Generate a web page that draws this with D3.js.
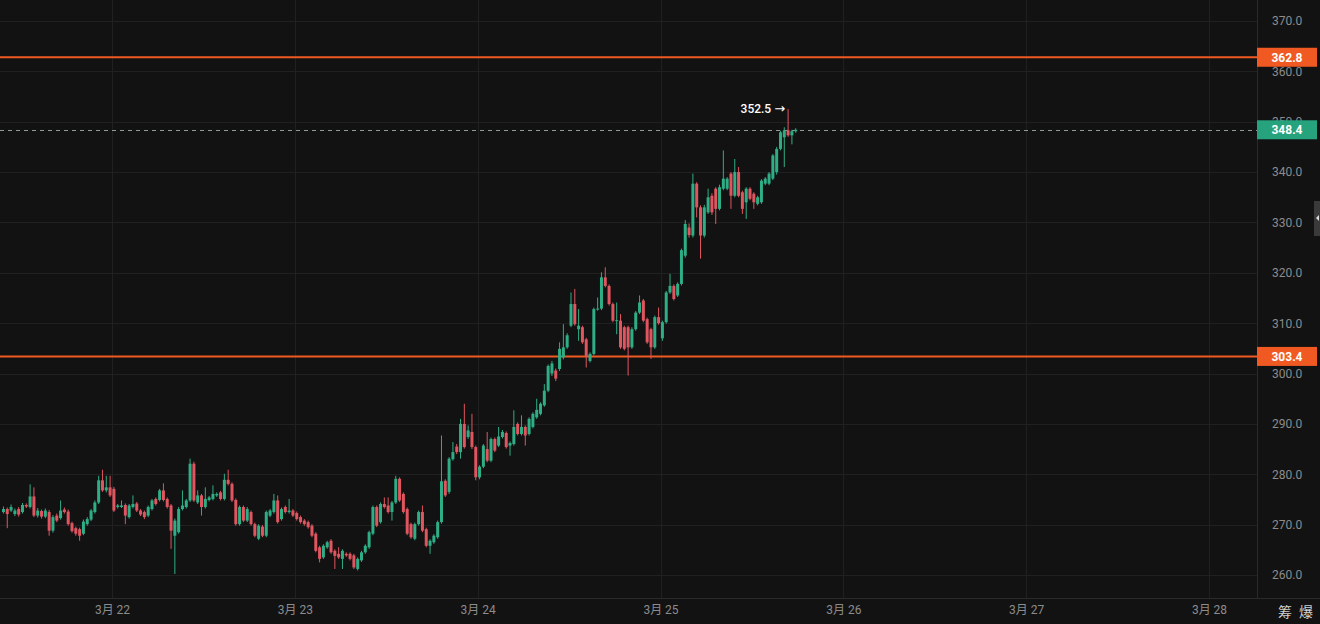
<!DOCTYPE html>
<html>
<head>
<meta charset="utf-8">
<title>K线</title>
<script src="https://d3js.org/d3.v7.min.js"></script>
<style>
  html, body { margin: 0; padding: 0; background: #121212; overflow: hidden; }
  svg { display: block; font-family: Roboto, "Liberation Sans", sans-serif; }
</style>
</head>
<body>
<script>
  var width = 1320
  var height = 624
  var plotRight = 1257
  var plotBottom = 598

  // 30 minute candles, first one starts 3月21 09:30
  var firstCandle = new Date(2024, 2, 21, 9, 30)
  var stepMs = 30 * 60 * 1000

  var opens = [
    272.5,273.1,272.8,272.1,273.1,272.5,273.9,273.5,275.6,271.8,272.7,271.6,272.5,268.8,271.8,271.3,273.0,272.6,270.3,269.3,
    269.1,268.2,270.1,271.0,272.5,274.4,278.8,276.8,277.4,277.1,273.5,273.5,273.9,271.5,273.5,274.2,272.8,272.5,271.8,273.1,
    275.1,274.9,276.8,275.1,273.8,267.8,268.5,273.1,273.5,274.8,282.1,274.4,275.8,273.5,274.9,275.1,275.8,276.4,275.1,278.9,
    278.1,274.9,270.1,273.5,270.8,272.5,270.1,267.2,269.6,267.8,271.8,272.5,274.8,271.1,273.5,272.5,272.8,272.3,271.5,270.8,
    270.5,269.8,268.2,265.5,263.5,265.5,266.8,264.8,264.2,263.2,264.2,264.2,263.9,261.2,262.9,264.5,265.5,268.2,273.5,270.5,
    274.1,273.8,272.5,274.4,279.1,276.1,273.1,270.1,267.2,270.1,272.5,269.1,265.8,266.5,267.5,270.5,278.7,276.5,283.0,285.5,
    284.4,290.0,287.4,288.4,285.4,279.4,281.5,285.0,282.7,287.0,285.7,287.4,288.2,285.7,286.0,290.0,288.0,289.4,288.0,289.4,
    291.3,292.0,293.7,296.6,300.0,300.6,300.9,303.2,305.2,309.5,313.8,308.8,309.2,306.8,302.5,303.9,312.8,312.9,319.1,317.4,
    313.8,310.4,310.5,309.2,309.2,305.2,308.8,312.1,314.5,310.8,308.8,305.2,311.2,307.0,310.2,316.1,317.4,315.5,317.8,323.4,
    329.0,327.4,337.7,333.0,327.4,332.0,335.3,336.7,332.7,336.7,336.7,339.7,335.3,340.0,336.0,334.0,336.7,335.7,333.7,334.0,
    337.7,337.7,338.7,340.0,344.6,346.9,348.3,347.3,348.1
  ]
  var highs = [
    273.6,273.4,274.0,273.2,273.5,274.3,274.2,278.0,277.4,273.3,273.0,273.2,272.9,271.9,272.2,274.8,273.4,273.0,270.6,269.6,
    269.4,271.0,271.5,273.1,274.8,279.7,280.9,279.7,279.7,277.5,274.1,274.8,274.2,274.1,275.8,274.5,273.1,272.8,273.8,275.1,
    275.4,277.1,278.2,275.4,274.1,271.2,273.5,276.8,275.1,283.1,282.5,276.8,276.1,277.4,275.7,277.8,276.4,276.7,280.1,280.9,
    278.4,275.2,273.8,273.8,273.5,272.8,270.4,270.1,269.9,272.8,273.1,276.1,275.8,273.4,273.8,275.1,273.1,272.6,271.8,271.1,
    270.8,270.1,268.5,265.8,266.1,266.8,267.1,265.1,265.5,265.1,264.5,264.5,264.2,263.5,264.8,266.1,268.8,273.8,273.8,274.4,
    275.4,275.4,274.7,279.7,279.4,276.4,273.4,270.4,270.4,272.8,273.8,269.4,267.1,268.1,270.8,287.7,279.0,283.4,286.4,286.0,
    291.0,294.0,289.7,292.0,285.7,281.8,286.0,288.4,287.3,287.3,289.4,288.8,288.5,286.5,292.7,290.3,291.7,289.7,291.3,292.3,
    295.0,294.3,297.9,301.8,302.5,301.0,306.2,309.8,308.0,316.1,316.8,312.8,309.5,307.1,304.2,313.1,315.1,320.1,321.1,317.7,
    314.1,314.1,311.8,309.5,309.5,309.2,312.4,315.5,314.8,311.1,309.1,311.5,313.1,310.5,316.4,319.8,317.7,318.1,324.8,330.5,
    329.8,339.7,338.0,333.4,333.5,336.7,335.8,337.0,337.5,344.3,339.0,340.0,342.6,341.0,336.3,337.0,337.0,336.0,335.3,338.6,
    339.0,340.0,343.6,345.0,348.2,348.9,352.5,348.4,348.7
  ]
  var lows = [
    272.2,269.3,272.5,271.7,271.6,272.2,273.3,273.2,271.5,271.4,271.2,271.3,267.8,268.4,270.5,271.0,272.2,269.8,268.4,267.8,
    266.8,267.9,269.8,270.7,272.2,274.1,276.5,276.4,275.5,272.5,273.2,273.3,270.1,271.2,273.2,272.5,271.7,271.1,271.5,272.8,
    273.8,274.6,274.6,273.2,265.2,260.2,268.2,272.8,273.2,274.5,274.5,274.1,271.8,273.2,274.6,274.8,275.5,274.8,274.8,277.8,
    274.5,269.8,269.8,270.5,270.5,269.8,267.5,266.9,267.5,267.5,271.5,272.2,270.2,270.8,272.2,272.2,271.5,270.8,270.2,269.8,
    269.2,267.5,264.5,262.5,263.2,265.2,264.2,261.2,263.2,261.2,263.6,262.9,261.2,260.9,262.6,264.2,265.2,267.9,269.5,270.2,
    273.2,272.2,270.8,274.1,274.5,272.2,267.9,267.2,266.9,269.8,268.5,265.5,264.2,266.2,267.2,270.2,275.5,276.1,282.7,284.0,
    283.1,285.1,287.0,285.0,278.8,279.0,281.2,282.4,282.4,284.4,285.4,287.1,285.1,283.7,285.7,287.7,287.7,285.7,287.7,289.1,
    291.0,291.7,293.4,296.3,299.5,298.5,300.5,302.8,304.9,309.2,309.5,306.5,305.9,301.2,302.2,303.6,312.5,312.6,317.1,313.5,
    310.2,307.8,304.9,304.6,299.6,304.9,308.5,311.8,310.2,305.9,302.9,304.9,309.7,306.5,309.9,315.8,314.5,315.2,317.5,323.0,
    327.0,327.0,331.0,322.8,327.0,331.7,331.5,329.7,332.4,336.4,336.4,332.7,335.0,335.0,331.7,330.7,334.4,332.7,333.4,333.7,
    337.4,337.4,338.4,339.5,344.3,341.0,347.0,345.5,347.8
  ]
  var closes = [
    273.1,272.1,273.5,272.8,272.0,273.9,273.6,275.6,271.8,272.8,271.6,272.8,268.8,271.5,270.8,272.8,272.5,270.1,268.7,268.2,
    267.8,270.6,271.1,272.8,274.4,278.8,276.8,277.4,275.8,272.8,273.8,273.8,271.8,273.8,274.1,272.8,272.0,271.5,273.5,274.8,
    274.1,276.8,274.9,273.5,268.8,270.8,273.1,273.8,274.8,282.1,274.8,275.8,273.5,275.1,275.4,276.1,276.1,275.1,278.9,278.1,
    274.8,270.1,273.5,270.8,273.1,270.1,267.8,269.8,267.8,272.5,272.8,274.8,270.5,273.1,272.5,272.8,271.8,271.1,270.5,270.1,
    269.5,267.8,264.8,263.2,265.8,266.5,264.5,263.8,263.5,264.8,263.9,263.2,261.5,263.2,264.5,265.8,268.5,273.5,269.8,274.1,
    273.5,272.5,274.4,279.1,274.8,272.5,268.2,267.5,270.1,272.5,268.8,265.8,266.8,267.8,270.5,278.6,275.8,283.1,284.4,284.4,
    290.0,285.4,288.7,285.4,279.4,281.5,285.7,282.7,287.0,284.7,287.5,288.4,285.4,286.2,289.4,288.0,289.4,287.7,291.0,292.0,
    292.8,294.0,296.6,301.5,302.0,299.0,304.9,305.2,307.6,313.8,309.8,309.5,306.2,303.5,303.9,312.8,312.9,319.1,317.4,313.8,
    310.5,310.6,305.2,304.9,305.2,308.8,312.1,314.1,310.5,306.2,305.2,311.2,310.0,310.2,316.1,317.4,314.8,317.8,324.5,329.7,
    327.5,337.7,333.0,327.4,333.0,335.0,332.0,332.7,337.0,338.7,338.7,335.3,340.0,335.3,332.7,336.7,334.7,334.0,335.0,338.3,
    338.7,339.7,343.3,344.6,347.9,348.3,347.3,348.1,348.4
  ]

  var priceTicks = [260, 270, 280, 290, 300, 310, 320, 330, 340, 350, 360, 370]
  var dayTicks = [22, 23, 24, 25, 26, 27, 28]
  var levelLines = [362.8, 303.4]
  var lastPrice = 348.4
  var peakPrice = 352.5
  var cornerLabels = ["筹", "爆"]

  var upColor = "#2fae86"
  var downColor = "#df5560"
  var levelColor = "#f05a22"

  var candles = opens.map(function(o, i) {
    return { t: new Date(firstCandle.getTime() + i * stepMs), o: o, h: highs[i], l: lows[i], c: closes[i] }
  })
  var dayDates = dayTicks.map(function(d) { return new Date(2024, 2, d) })

  var x = d3.scaleTime()
            .domain([dayDates[0], dayDates[dayDates.length - 1]])
            .range([112, 1209])

  var y = d3.scaleLinear()
            .domain([260, 370])
            .range([575, 21])

  var svg = d3.select("body")
              .append("svg")
              .attr("width", width)
              .attr("height", height)

  svg.append("rect").attr("width", width).attr("height", height).attr("fill", "#121212")

  // grid
  svg.append("g")
     .selectAll("line")
     .data(priceTicks)
     .enter()
     .append("line")
     .attr("x1", 0).attr("x2", plotRight)
     .attr("y1", function(d) { return Math.round(y(d)) + 0.5 })
     .attr("y2", function(d) { return Math.round(y(d)) + 0.5 })
     .attr("stroke", "#202020")

  svg.append("g")
     .selectAll("line")
     .data(dayDates)
     .enter()
     .append("line")
     .attr("x1", function(d) { return Math.round(x(d)) + 0.5 })
     .attr("x2", function(d) { return Math.round(x(d)) + 0.5 })
     .attr("y1", 0).attr("y2", plotBottom)
     .attr("stroke", "#202020")

  // frame lines
  svg.append("line").attr("x1", plotRight + 0.5).attr("x2", plotRight + 0.5)
     .attr("y1", 0).attr("y2", plotBottom).attr("stroke", "#2a2a2a")
  svg.append("line").attr("x1", 0).attr("x2", width)
     .attr("y1", plotBottom + 0.5).attr("y2", plotBottom + 0.5).attr("stroke", "#2a2a2a")

  // level lines
  svg.append("g")
     .selectAll("line")
     .data(levelLines)
     .enter()
     .append("line")
     .attr("x1", 0).attr("x2", plotRight)
     .attr("y1", function(d) { return y(d) })
     .attr("y2", function(d) { return y(d) })
     .attr("stroke", levelColor)
     .attr("stroke-width", 2)

  // last price dashed line
  svg.append("line")
     .attr("x1", 0).attr("x2", plotRight)
     .attr("y1", Math.round(y(lastPrice)) + 0.5)
     .attr("y2", Math.round(y(lastPrice)) + 0.5)
     .attr("stroke", "#8f9c98")
     .attr("stroke-dasharray", "4,4")

  // candles
  var halfStep = (x(new Date(firstCandle.getTime() + stepMs)) - x(firstCandle)) / 2
  var bodyW = 3

  var candle = svg.append("g")
                  .selectAll("g")
                  .data(candles)
                  .enter()
                  .append("g")

  candle.append("line")
        .attr("x1", function(d) { return x(d.t) + halfStep })
        .attr("x2", function(d) { return x(d.t) + halfStep })
        .attr("y1", function(d) { return y(d.h) })
        .attr("y2", function(d) { return y(d.l) })
        .attr("stroke", function(d) { return d.c >= d.o ? upColor : downColor })
        .attr("stroke-width", 1)

  candle.append("rect")
        .attr("x", function(d) { return x(d.t) + halfStep - bodyW / 2 })
        .attr("y", function(d) { return y(Math.max(d.o, d.c)) })
        .attr("width", bodyW)
        .attr("height", function(d) { return Math.max(1, Math.abs(y(d.o) - y(d.c))) })
        .attr("fill", function(d) { return d.c >= d.o ? upColor : downColor })

  // peak annotation
  var peak = candles[d3.maxIndex(candles, function(d) { return d.h })]
  var note = svg.append("text")
     .attr("x", x(peak.t) + halfStep - 3)
     .attr("y", y(peak.h) + 4)
     .attr("text-anchor", "end")
     .attr("fill", "#ffffff")
     .attr("font-size", 12)
     .attr("font-weight", 500)
  note.append("tspan").text(peakPrice.toFixed(1) + " ")
  note.append("tspan").attr("font-size", 13).attr("font-family", "'DejaVu Sans', sans-serif").text("\u2192")

  // y axis
  var yAxis = d3.axisRight(y)
                .tickValues(priceTicks)
                .tickFormat(d3.format(".1f"))
                .tickSize(0)
                .tickPadding(15)

  var gy = svg.append("g")
              .attr("transform", "translate(" + plotRight + ",0)")
              .call(yAxis)
  gy.select(".domain").remove()
  gy.selectAll("text")
    .attr("fill", "#8c8c8c")
    .attr("font-size", 12)
    .attr("font-family", "Roboto, sans-serif")

  // x axis
  var xAxis = d3.axisBottom(x)
                .tickValues(dayDates)
                .tickFormat(function(d) { return (d.getMonth() + 1) + "月 " + d.getDate() })
                .tickSize(0)
                .tickPadding(7)

  var gx = svg.append("g")
              .attr("transform", "translate(0," + plotBottom + ")")
              .call(xAxis)
  gx.select(".domain").remove()
  gx.selectAll("text")
    .attr("fill", "#8c8c8c")
    .attr("font-size", 12)
    .attr("font-family", "Roboto, 'Noto Sans CJK SC', sans-serif")

  // price tags on the right
  var tags = [
    { v: levelLines[0], fill: levelColor },
    { v: levelLines[1], fill: levelColor },
    { v: lastPrice, fill: "#26a27d" }
  ]
  var tag = svg.append("g")
               .selectAll("g")
               .data(tags)
               .enter()
               .append("g")
               .attr("transform", function(d) { return "translate(" + plotRight + "," + y(d.v) + ")" })
  tag.append("rect")
     .attr("x", 0).attr("y", -9.5)
     .attr("width", 60).attr("height", 19)
     .attr("fill", function(d) { return d.fill })
  tag.append("text")
     .attr("x", 30).attr("y", 4.5)
     .attr("text-anchor", "middle")
     .attr("fill", "#ffffff")
     .attr("font-size", 12)
     .attr("font-weight", "bold")
     .text(function(d) { return d.v.toFixed(1) })

  // small side handle
  svg.append("rect").attr("x", 1314).attr("y", 201).attr("width", 6).attr("height", 35).attr("fill", "#3a3a3a")
  svg.append("path").attr("d", "M1316,218 L1319,215 L1319,221 Z").attr("fill", "#dddddd")

  // bottom right labels
  svg.append("g")
     .selectAll("text")
     .data(cornerLabels)
     .enter()
     .append("text")
     .attr("x", function(d, i) { return 1285 + i * 21 })
     .attr("y", 617)
     .attr("text-anchor", "middle")
     .attr("fill", "#d0d0d0")
     .attr("font-size", 14)
     .attr("font-family", "'Noto Sans CJK SC', sans-serif")
     .text(function(d) { return d })
</script>
</body>
</html>
